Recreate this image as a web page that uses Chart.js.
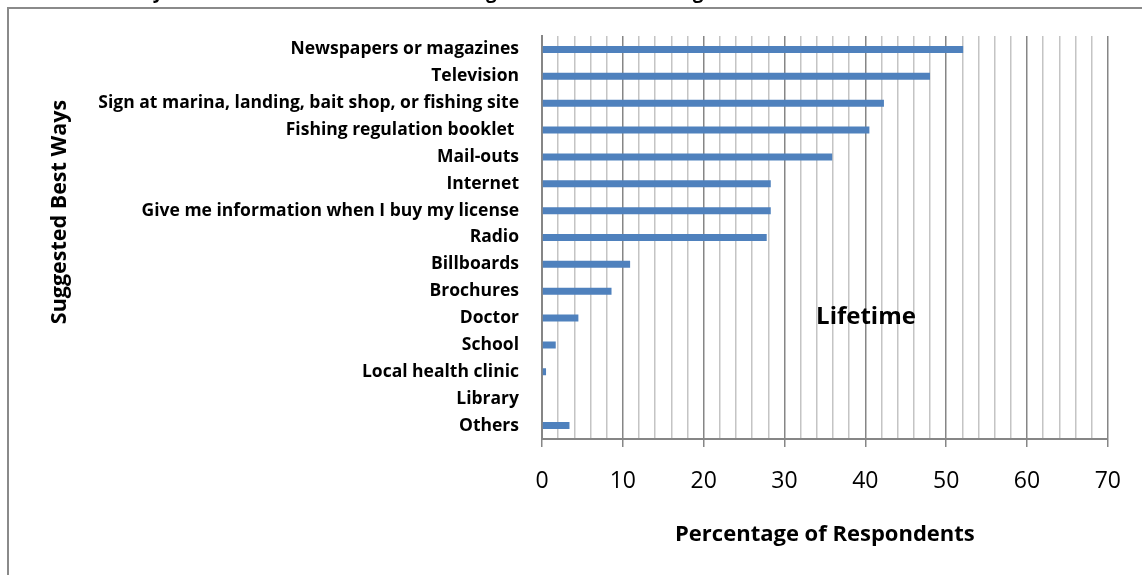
<!DOCTYPE html>
<html>
<head>
<meta charset="utf-8">
<script src="https://cdn.jsdelivr.net/npm/chart.js@4.4.1/dist/chart.umd.min.js"></script>
<style>
  html, body { margin: 0; padding: 0; background: #fff; }
  #wrap { position: relative; width: 1142px; height: 575px; overflow: hidden; }
  #frame { position: absolute; left: 7px; top: 7px; width: 1300px; height: 700px;
           border-left: 2px solid #8a8a8a; border-top: 2px solid #8a8a8a; }
  canvas { position: absolute; left: 0; top: 0; }
</style>
</head>
<body>
<div id="wrap">
  <div id="frame"></div>
  <canvas id="chart" width="1142" height="575"></canvas>
</div>
<script>
// data
const categories = [
  'Newspapers or magazines',
  'Television',
  'Sign at marina, landing, bait shop, or fishing site',
  'Fishing regulation booklet ',
  'Mail-outs',
  'Internet',
  'Give me information when I buy my license',
  'Radio',
  'Billboards',
  'Brochures',
  'Doctor',
  'School',
  'Local health clinic',
  'Library',
  'Others',
];
const lifetime = [52.1, 48.0, 42.3, 40.5, 35.9, 28.3, 28.3, 27.8, 10.9, 8.6, 4.5, 1.7, 0.5, 0, 3.4];
const xTickLabels = [0, 10, 20, 30, 40, 50, 60, 70];

const seriesName = 'Lifetime';
const xTitle = 'Percentage of Respondents';
const yTitle = 'Suggested Best Ways';
const chartTitle = 'Preferred Ways to Receive Information on Fishing and Seafood Warnings';

const FONT = '"Open Sans", Lato, sans-serif';
const MAJOR = '#868686', MINOR = '#c4c4c4';

// titles + in-plot series label, placed where the reference puts them
const textPlugin = {
  id: 'texts',
  afterDraw(chart) {
    const { ctx, chartArea: a } = chart;
    ctx.save();
    ctx.fillStyle = '#000';
    ctx.textBaseline = 'middle';
    ctx.textAlign = 'center';

    // title is cut off by the top of the picture
    ctx.font = 'bold 19px ' + FONT;
    ctx.fillText(chartTitle, 370, -7);

    ctx.font = 'bold 22px ' + FONT;
    ctx.fillText(xTitle, (a.left + a.right) / 2, 535);

    ctx.font = 'bold 24px ' + FONT;
    ctx.fillText(seriesName, 866, 317);

    ctx.translate(60, 212);
    ctx.rotate(-Math.PI / 2);
    ctx.font = 'bold 21.5px ' + FONT;
    ctx.fillText(yTitle, 0, 0);
    ctx.restore();
  },
};

new Chart(document.getElementById('chart'), {
  type: 'bar',
  data: {
    labels: categories,
    datasets: [{
      label: seriesName,
      data: lifetime,
      backgroundColor: '#4F81BD',
      barPercentage: 0.26,
      categoryPercentage: 1,
    }],
  },
  options: {
    indexAxis: 'y',
    responsive: false,
    animation: false,
    layout: { padding: { top: 36, right: 30, bottom: 0, left: 0 } },
    plugins: { legend: { display: false }, tooltip: { enabled: false }, title: { display: false } },
    scales: {
      x: {
        min: 0, max: 70,
        afterFit: (s) => { s.height = 136; },
        border: { color: MAJOR, width: 2 },
        grid: {
          color: (c) => (c.tick && c.tick.value % 10 === 0 ? MAJOR : MINOR),
          tickColor: (c) => (c.tick && c.tick.value % 10 === 0 ? MAJOR : 'rgba(0,0,0,0)'),
          lineWidth: 1.5,
          tickLength: 8,
        },
        ticks: {
          stepSize: 2,
          autoSkip: false,
          maxRotation: 0,
          padding: 21,
          color: '#000',
          font: { family: FONT, size: 23 },
          callback: (v) => (xTickLabels.includes(v) ? String(v) : ''),
        },
      },
      y: {
        afterFit: (s) => { s.width = 542; },
        border: { color: MAJOR, width: 2 },
        grid: { display: false, drawTicks: false },
        ticks: {
          padding: 23,
          color: '#000',
          autoSkip: false,
          font: { family: FONT, size: 17.5, weight: 'bold' },
        },
      },
    },
  },
  plugins: [textPlugin],
});
</script>
</body>
</html>
